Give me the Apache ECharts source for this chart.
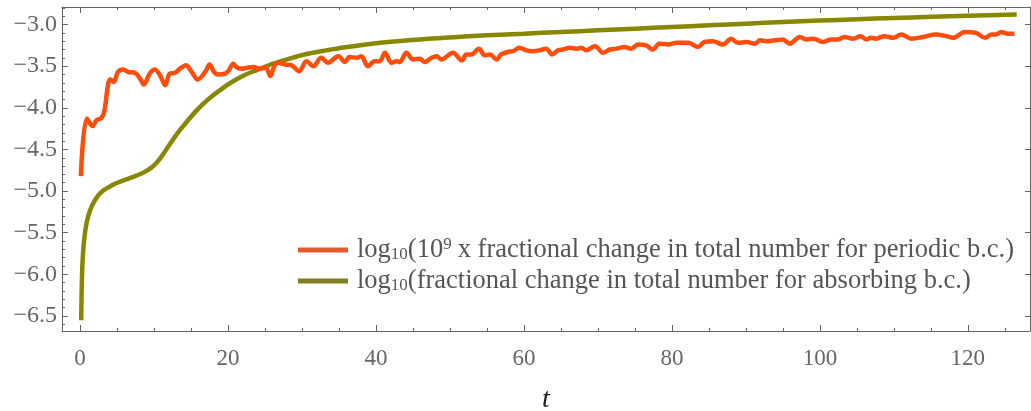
<!DOCTYPE html>
<html><head><meta charset="utf-8">
<script src="https://cdn.jsdelivr.net/npm/echarts@6/dist/echarts.min.js"></script>
<style>html,body{margin:0;padding:0;background:#fff}#c{width:1031px;height:411px}</style>
</head><body><div id="c"></div>
<script>
const tRed = [0.1,0.9,1.7,2.2,2.9,3.3,3.8,4.1,4.55,5.1,5.8,6.5,7.4,8.1,8.6,9.4,10.1,10.8,11.5,12.1,12.8,13.5,14.3,15.1,15.9,16.9,17.5,18.1,18.6,19.6,20.1,20.7,21.1,21.8,22.5,23.4,24.3,25.1,25.7,26.3,26.8,27.7,28.6,29.6,30.6,31.5,32.6,33.5,34.9,35.8,36.4,37.4,38.0,38.9,39.8,40.5,41.2,42.1,42.8,43.2,44.1,45.0,45.9,46.6,47.5,48.2,48.8,50.4,51.6,52.2,52.9,53.9,54.7,55.4,56.3,56.9,57.8,58.5,59.4,60.3,61.2,62.1,63.0,63.8,64.6,65.3,66.2,67.1,67.8,68.4,69.6,70.7,71.6,72.5,73.6,74.5,75.4,76.5,77.4,78.3,79.5,80.6,82.2,83.5,84.4,85.5,86.9,88.0,88.9,90.1,91.2,91.9,92.8,93.9,95.0,95.9,97.3,98.2,99.1,100.4,101.5,102.4,103.3,104.5,105.5,106.3,106.9,107.6,108.7,109.9,111.0,112.4,113.9,115.7,117.1,118.0,119.6,121.1,122.3,123.2,123.8,124.5,125.4,126.3];
const yRed = [-4.82,-4.13,-4.22,-4.15,-4.12,-4.03,-3.71,-3.66,-3.69,-3.57,-3.54,-3.57,-3.58,-3.65,-3.72,-3.59,-3.54,-3.61,-3.73,-3.59,-3.58,-3.53,-3.49,-3.57,-3.66,-3.57,-3.48,-3.57,-3.60,-3.59,-3.55,-3.47,-3.51,-3.53,-3.52,-3.51,-3.53,-3.52,-3.62,-3.49,-3.46,-3.48,-3.49,-3.56,-3.44,-3.50,-3.40,-3.46,-3.38,-3.45,-3.39,-3.40,-3.38,-3.50,-3.44,-3.44,-3.34,-3.46,-3.44,-3.45,-3.34,-3.42,-3.41,-3.45,-3.40,-3.38,-3.42,-3.34,-3.43,-3.36,-3.36,-3.29,-3.37,-3.36,-3.42,-3.36,-3.33,-3.32,-3.28,-3.31,-3.32,-3.31,-3.29,-3.36,-3.31,-3.30,-3.28,-3.29,-3.28,-3.31,-3.26,-3.34,-3.30,-3.29,-3.27,-3.29,-3.24,-3.25,-3.30,-3.23,-3.24,-3.22,-3.22,-3.27,-3.21,-3.20,-3.24,-3.17,-3.22,-3.21,-3.23,-3.19,-3.20,-3.19,-3.18,-3.23,-3.15,-3.18,-3.17,-3.21,-3.18,-3.18,-3.15,-3.17,-3.14,-3.18,-3.16,-3.17,-3.14,-3.16,-3.12,-3.17,-3.15,-3.12,-3.14,-3.16,-3.09,-3.10,-3.16,-3.12,-3.12,-3.09,-3.11,-3.11];
const tGreen = [0.14,0.23,0.36,0.59,0.9,1.35,2.0,2.9,4.3,5.6,7.2,8.3,9.0,9.7,10.4,11.2,12.1,13.2,14.4,15.5,16.6,17.7,18.9,20.0,21.1,22.4,23.8,26.1,28.3,30.6,33.0,35.0,40,45,50,55,60,65,70,75,80,85,90,95,100,105,110,115,120,126.6];
const yGreen = [-6.55,-6.11,-5.79,-5.55,-5.37,-5.23,-5.11,-5.01,-4.93,-4.88,-4.83,-4.79,-4.755,-4.715,-4.655,-4.56,-4.44,-4.30,-4.17,-4.055,-3.955,-3.87,-3.79,-3.72,-3.66,-3.60,-3.55,-3.47,-3.41,-3.355,-3.315,-3.285,-3.225,-3.185,-3.155,-3.13,-3.11,-3.09,-3.07,-3.05,-3.03,-3.01,-2.99,-2.97,-2.953,-2.937,-2.922,-2.908,-2.896,-2.88];
const xTicks = [0,20,40,60,80,100,120];
const xMinorTicks = [0,5,10,15,20,25,30,35,40,45,50,55,60,65,70,75,80,85,90,95,100,105,110,115,120,125];
const yTicks = [-6.5,-6.0,-5.5,-5.0,-4.5,-4.0,-3.5,-3.0];
const yMinorTicks = [-6.6,-6.5,-6.4,-6.3,-6.2,-6.1,-6.0,-5.9,-5.8,-5.7,-5.6,-5.5,-5.4,-5.3,-5.2,-5.1,-5.0,-4.9,-4.8,-4.7,-4.6,-4.5,-4.4,-4.3,-4.2,-4.1,-4.0,-3.9,-3.8,-3.7,-3.6,-3.5,-3.4,-3.3,-3.2,-3.1,-3.0,-2.9,-2.8];
const nameRed = 'periodic';
const nameGreen = 'absorbing';

const FONT = 'Liberation Serif';
const AX = '#666';
const X0 = -2.45, X1 = 128.4, Y0 = -6.68, Y1 = -2.79;

function xAx(pos, ticks, len, labels, line) {
  return {
    type: 'value', position: pos, min: X0, max: X1,
    axisLine: {show: line, onZero: false, lineStyle: {color: AX, width: 1}},
    axisTick: {show: true, inside: true, length: len, customValues: ticks, lineStyle: {color: AX, width: 1}},
    axisLabel: {show: labels, customValues: ticks, margin: 16,
      formatter: v => '{d|' + v + '}',
      rich: {d: {fontFamily: FONT, fontSize: 23, color: '#666'}}},
    splitLine: {show: false}
  };
}
function yAx(pos, ticks, len, labels, line) {
  return {
    type: 'value', position: pos, min: Y0, max: Y1,
    axisLine: {show: line, onZero: false, lineStyle: {color: AX, width: 1}},
    axisTick: {show: true, inside: true, length: len, customValues: ticks, lineStyle: {color: AX, width: 1}},
    axisLabel: {show: labels, customValues: ticks, margin: 5,
      formatter: v => '{d|' + (v < 0 ? '\u2212' : '') + Math.abs(v).toFixed(1) + '}',
      rich: {d: {fontFamily: FONT, fontSize: 24, color: '#666'}}},
    splitLine: {show: false}
  };
}

const xMain = xAx('bottom', xTicks, 6, true, true);

const legendText = {
  [nameRed]: '{n|log}{s|10}{n|(10}{p|9}{n|x fractional change in total number for periodic b.c.)}',
  [nameGreen]: '{n|log}{s|10}{n|(fractional change in total number for absorbing b.c.)}'
};

const option = {
  animation: false,
  textStyle: {fontFamily: FONT},
  grid: {left: 62, right: 1, top: 7, bottom: 80},
  graphic: [{type: 'text', left: 542, top: 386, style: {text: 't', fontFamily: FONT, fontStyle: 'italic', fontSize: 28, fill: '#222'}}],
  xAxis: [xMain, xAx('top', xTicks, 6, false, true), xAx('bottom', xMinorTicks, 3, false, false), xAx('top', xMinorTicks, 3, false, false)],
  yAxis: [yAx('left', yTicks, 6, true, true), yAx('right', yTicks, 5, false, true), yAx('left', yMinorTicks, 3, false, false)],
  legend: {
    orient: 'vertical', left: 293, top: 231, itemWidth: 50, itemHeight: 5, itemGap: 4,
    icon: 'rect',
    data: [{name: nameRed, itemStyle: {color: '#e55a2e'}}, {name: nameGreen, itemStyle: {color: '#7f7f22'}}],
    formatter: n => legendText[n],
    textStyle: {
      fontFamily: FONT, color: '#555', fontSize: 26.5, padding: [0, 0, 0, 4],
      rich: {
        n: {fontFamily: FONT, fontSize: 26.5, color: '#555'},
        s: {fontFamily: FONT, fontSize: 17, color: '#555', padding: [10, 0, 0, 0]},
        p: {fontFamily: FONT, fontSize: 17, color: '#555', padding: [0, 6, 11, 0]}
      }
    }
  },
  series: [
    {name: nameRed, type: 'line', xAxisIndex: 0, yAxisIndex: 0, showSymbol: false, smooth: 0.35,
     data: tRed.map((t, i) => [t, yRed[i]]), lineStyle: {color: '#ff4d0c', width: 4.5}, itemStyle: {color: '#ff4d0c'}, z: 3},
    {name: nameGreen, type: 'line', xAxisIndex: 0, yAxisIndex: 0, showSymbol: false, smooth: 0.35,
     data: tGreen.map((t, i) => [t, yGreen[i]]), lineStyle: {color: '#878700', width: 4.5}, itemStyle: {color: '#878700'}, z: 2}
  ]
};
const chart = echarts.init(document.getElementById('c'), null, {renderer: 'canvas'});
chart.setOption(option);
</script></body></html>
